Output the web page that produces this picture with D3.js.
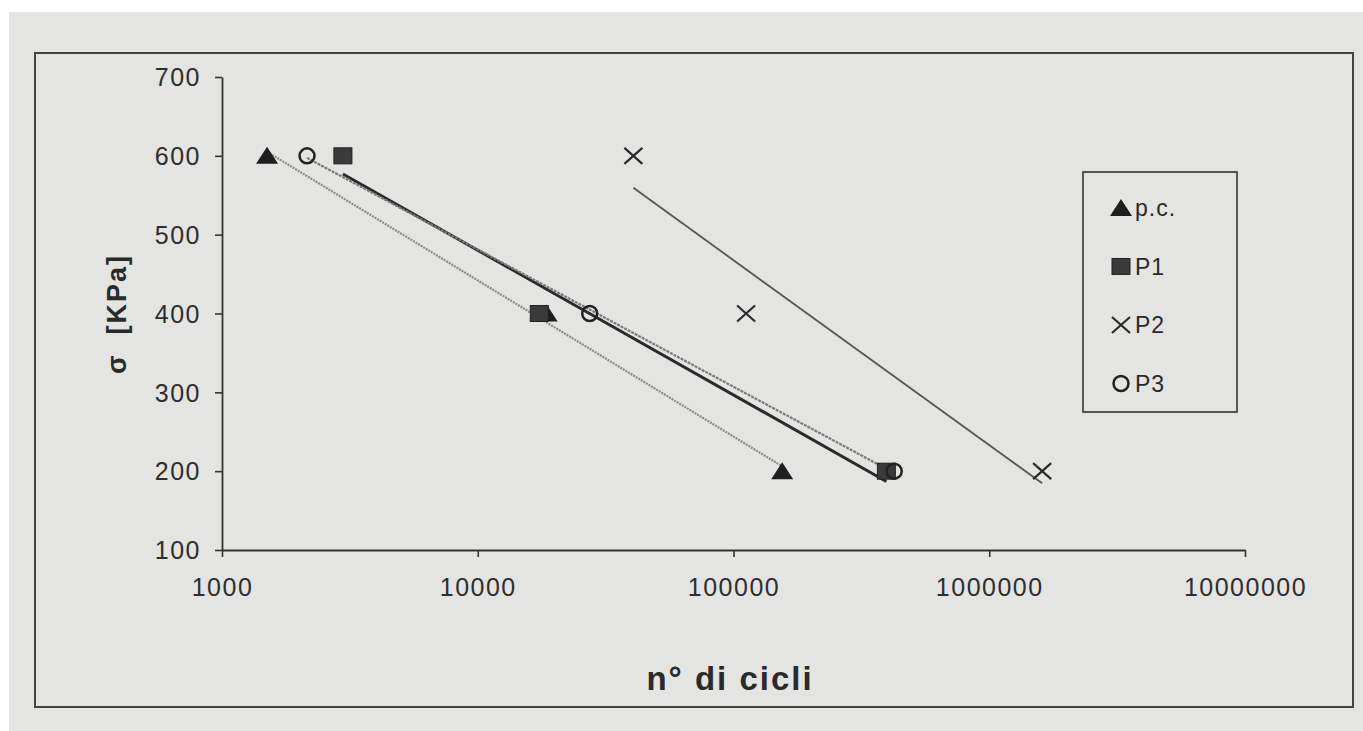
<!DOCTYPE html>
<html>
<head>
<meta charset="utf-8">
<script src="https://cdn.jsdelivr.net/npm/d3@7"></script>
<style>
  body { margin: 0; background: #e4e4e2; }
  svg { display: block; font-family: "Liberation Sans", Arial, sans-serif; }
</style>
</head>
<body>
<svg id="chart" width="1363" height="731"></svg>
<script>
// values
var seriesNames = ["p.c.", "P1", "P2", "P3"];
var stressLevels = [600, 400, 200];
var cyclesPC = [1500, 18600, 155000];
var cyclesP1 = [2970, 17400, 396000];
var cyclesP2 = [40600, 112000, 1610000];
var cyclesP3 = [2150, 27400, 425000];
var xTicks = [1000, 10000, 100000, 1000000, 10000000];
var yTicks = [100, 200, 300, 400, 500, 600, 700];

var svg = d3.select("#chart");
var W = 1363, H = 731;

// scan background: white edge strips, grey page
svg.append("rect").attr("width", W).attr("height", H).attr("fill", "#ffffff");
svg.append("rect").attr("x", 9).attr("y", 12).attr("width", W - 9).attr("height", H - 12)
    .attr("fill", "#e4e4e2");

// outer chart frame
svg.append("rect").attr("x", 35).attr("y", 53).attr("width", 1318).attr("height", 654)
    .attr("fill", "none").attr("stroke", "#444").attr("stroke-width", 2);

var plot = {left: 222, right: 1245, top: 77, bottom: 550};

var x = d3.scaleLog().domain([1000, 10000000]).range([plot.left, plot.right]);
var y = d3.scaleLinear().domain([100, 700]).range([plot.bottom, plot.top]);

var series = [
    {name: seriesNames[0], cycles: cyclesPC, symbol: "triangle", line: "#8a8a8a", lw: 2.2, dash: "2,1"},
    {name: seriesNames[1], cycles: cyclesP1, symbol: "square", line: "#2a2a2a", lw: 3, dash: null},
    {name: seriesNames[2], cycles: cyclesP2, symbol: "cross", line: "#555", lw: 1.8, dash: null},
    {name: seriesNames[3], cycles: cyclesP3, symbol: "circle", line: "#7a7a7a", lw: 2.2, dash: "3,1"}
];

// axes
var yAxis = d3.axisLeft(y).tickValues(yTicks).tickSize(7).tickSizeOuter(0)
    .tickFormat(d3.format("d"));
var gy = svg.append("g").attr("transform", "translate(" + plot.left + ",0)").call(yAxis);

var xAxis = d3.axisBottom(x).tickValues(xTicks).tickSize(7).tickSizeOuter(0)
    .tickFormat(d3.format("d"));
var gx = svg.append("g").attr("transform", "translate(0," + plot.bottom + ")").call(xAxis);

[gx, gy].forEach(function (g) {
    g.select(".domain").attr("stroke", "#333").attr("stroke-width", 1.8);
    g.selectAll(".tick line").attr("stroke", "#333").attr("stroke-width", 1.6);
    g.selectAll(".tick text").attr("fill", "#2e2e2e").style("font-size", "25px")
        .style("letter-spacing", "1.5px")
        .style("font-family", "'Liberation Sans', Arial, sans-serif");
});
gy.selectAll(".tick text").attr("x", -21).attr("dy", "0.35em");
gx.selectAll(".tick text").attr("y", 46).attr("dy", null);

// logarithmic trendlines (least squares of stress on log10 cycles)
series.forEach(function (s) {
    var lx = s.cycles.map(function (c) { return Math.log10(c); });
    var mx = d3.mean(lx), my = d3.mean(stressLevels);
    var sxy = 0, sxx = 0;
    for (var i = 0; i < lx.length; i++) {
        sxy += (lx[i] - mx) * (stressLevels[i] - my);
        sxx += (lx[i] - mx) * (lx[i] - mx);
    }
    var b = sxy / sxx, a = my - b * mx;
    var ends = d3.extent(s.cycles);
    var pts = ends.map(function (c) { return [x(c), y(a + b * Math.log10(c))]; });
    svg.append("path")
        .attr("d", d3.line()(pts))
        .attr("fill", "none")
        .attr("stroke", s.line)
        .attr("stroke-width", s.lw)
        .attr("stroke-dasharray", s.dash);
});

// markers
function drawMarker(g, kind, cx, cy) {
    if (kind === "triangle") {
        g.append("path").attr("d", "M" + cx + "," + (cy - 9) + "L" + (cx + 11) + "," + (cy + 8) + "L" + (cx - 11) + "," + (cy + 8) + "Z")
            .attr("fill", "#1e1e1e");
    } else if (kind === "square") {
        g.append("rect").attr("x", cx - 9).attr("y", cy - 8).attr("width", 18).attr("height", 16)
            .attr("fill", "#3a3a3a").attr("stroke", "#222").attr("stroke-width", 1);
    } else if (kind === "cross") {
        g.append("path").attr("d", "M" + (cx - 9) + "," + (cy - 8) + "L" + (cx + 9) + "," + (cy + 8) +
            "M" + (cx + 9) + "," + (cy - 8) + "L" + (cx - 9) + "," + (cy + 8))
            .attr("stroke", "#2a2a2a").attr("stroke-width", 2.2).attr("fill", "none");
    } else {
        g.append("circle").attr("cx", cx).attr("cy", cy).attr("r", 7.5)
            .attr("fill", "none").attr("stroke", "#222").attr("stroke-width", 2.5);
    }
}

series.forEach(function (s) {
    var g = svg.append("g");
    s.cycles.forEach(function (c, i) {
        drawMarker(g, s.symbol, x(c), y(stressLevels[i]));
    });
});

// legend
var leg = svg.append("g");
leg.append("rect").attr("x", 1083).attr("y", 172).attr("width", 154).attr("height", 240)
    .attr("fill", "none").attr("stroke", "#333").attr("stroke-width", 1.6);
series.forEach(function (s, i) {
    var ly = 208 + i * 58.5;
    drawMarker(leg, s.symbol, 1121, ly);
    leg.append("text").attr("x", 1135).attr("y", ly).attr("dy", "0.35em")
        .attr("fill", "#2a2a2a").style("font-size", "23px").style("letter-spacing", "1px")
        .text(s.name);
});

// axis titles
svg.append("text")
    .attr("transform", "translate(126,314) rotate(-90)")
    .attr("text-anchor", "middle")
    .attr("fill", "#2a2a2a")
    .attr("xml:space", "preserve")
    .style("font-size", "27px").style("font-weight", "bold").style("letter-spacing", "2px")
    .text("σ  [KPa]");

svg.append("text")
    .attr("x", 730).attr("y", 690)
    .attr("text-anchor", "middle")
    .attr("fill", "#2a2a2a")
    .style("font-size", "33px").style("font-weight", "bold").style("letter-spacing", "2px")
    .text("n° di cicli");
</script>
</body>
</html>
